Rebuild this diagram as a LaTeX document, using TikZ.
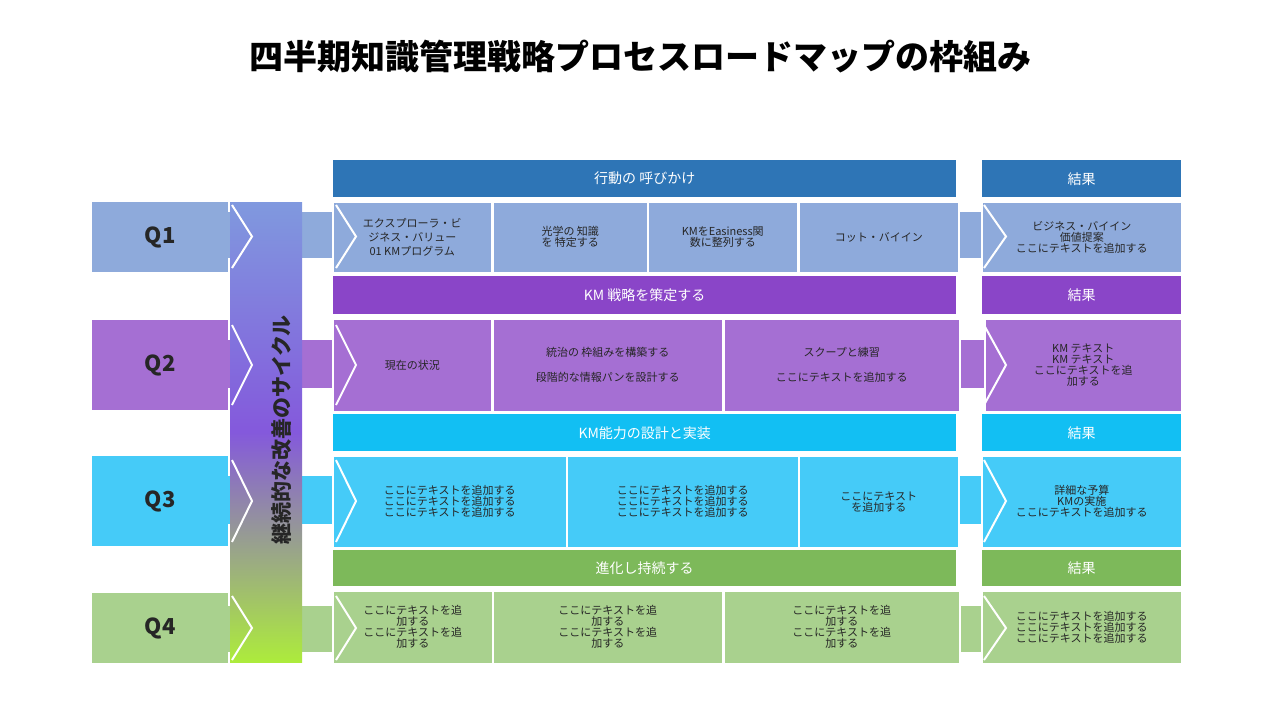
\documentclass[tikz,border=0pt]{standalone}
\usepackage{fontspec}
\setmainfont{Noto Sans CJK JP}
\begin{document}
\begin{tikzpicture}[x=1pt,y=-1pt,
 cell/.style={draw=white,line width=1.5pt,align=center,font=\fontsize{11}{11}\selectfont,anchor=north west,inner sep=0pt,text=black!85},
 hdr/.style={align=center,font=\fontsize{14}{14}\selectfont,text=white,anchor=north west,inner sep=0pt},
 qbox/.style={anchor=north west,inner sep=0pt,font=\bfseries\fontsize{22}{22}\selectfont,text=black!85},
 chev/.style={white,line width=2pt}]
\useasboundingbox (0,0) rectangle (1280,720);
\definecolor{qa}{HTML}{8EAADB}\definecolor{ha}{HTML}{2E75B6}
\definecolor{qb}{HTML}{A56FD3}\definecolor{hb}{HTML}{8A45C8}
\definecolor{qc}{HTML}{45CBF8}\definecolor{hc}{HTML}{12BFF3}
\definecolor{qd}{HTML}{A9D18E}\definecolor{hd}{HTML}{7DB95A}
\node[font=\bfseries\fontsize{34}{34}\selectfont] (title) at (640,57) {四半期知識管理戦略プロセスロードマップの枠組み};
% bands
\fill[qa] (92,212) rectangle (1000,258);
\fill[qb] (92,340) rectangle (1000,388);
\fill[qc] (92,476) rectangle (1000,524);
\fill[qd] (92,606) rectangle (1000,652);
% Q boxes
\node[qbox,fill=qa,minimum width=136,minimum height=70] (q1) at (92,202) {Q1};
\node[qbox,fill=qb,minimum width=136,minimum height=90] (q2) at (92,320) {Q2};
\node[qbox,fill=qc,minimum width=136,minimum height=90] (q3) at (92,456) {Q3};
\node[qbox,fill=qd,minimum width=136,minimum height=70] (q4) at (92,593) {Q4};
% vertical bar
\shade[top color=qa!90!blue,bottom color=qd!70!green!60!yellow,middle color=qb!80!blue] (230,202) rectangle (302,662);
\node[rotate=90,font=\bfseries\fontsize{21}{21}\selectfont,text=black!85] (cyc) at (282,430) {継続的な改善のサイクル};
% headers
\node[hdr,fill=ha,minimum width=623,minimum height=37] (h1) at (333,160) {行動の 呼びかけ};
\node[hdr,fill=ha,minimum width=199,minimum height=37] (r1h) at (982,160) {結果};
\node[hdr,fill=hb,minimum width=623,minimum height=38] (h2) at (333,276) {KM 戦略を策定する};
\node[hdr,fill=hb,minimum width=199,minimum height=38] (r2h) at (982,276) {結果};
\node[hdr,fill=hc,minimum width=623,minimum height=37] (h3) at (333,414) {KM能力の設計と実装};
\node[hdr,fill=hc,minimum width=199,minimum height=37] (r3h) at (982,414) {結果};
\node[hdr,fill=hd,minimum width=623,minimum height=36] (h4) at (333,550) {進化し持続する};
\node[hdr,fill=hd,minimum width=199,minimum height=36] (r4h) at (982,550) {結果};
% Q1 cells
\node[cell,fill=qa,minimum width=159,minimum height=71] (a1) at (332,201) {エクスプローラ・ビ\\[3pt]ジネス・バリュー\\[3pt]01 KMプログラム};
\node[cell,fill=qa,minimum width=155,minimum height=71] (a2) at (492,201) {光学の 知識\\を 特定する};
\node[cell,fill=qa,minimum width=150,minimum height=71] (a3) at (647,201) {KMをEasiness関\\数に整列する};
\node[cell,fill=qa,minimum width=160,minimum height=71] (a4) at (798,201) {コット・バイイン};
\node[cell,fill=qa,minimum width=200,minimum height=71] (ra) at (981,201) {ビジネス・バイイン\\価値提案\\ここにテキストを追加する};
% Q2 cells
\node[cell,fill=qb,minimum width=159,minimum height=93] (b1) at (332,318) {現在の状況};
\node[cell,fill=qb,minimum width=230,minimum height=93] (b2) at (492,318) {統治の 枠組みを構築する\\[14pt]段階的な情報パンを設計する};
\node[cell,fill=qb,minimum width=236,minimum height=93] (b3) at (723,318) {スクープと練習\\[14pt]ここにテキストを追加する};
\node[cell,fill=qb,minimum width=197,minimum height=93] (rb) at (984,318) {KM テキスト\\KM テキスト\\ここにテキストを追\\加する};
% Q3 cells
\node[cell,fill=qc,minimum width=234,minimum height=92] (c1) at (332,455) {ここにテキストを追加する\\ここにテキストを追加する\\ここにテキストを追加する};
\node[cell,fill=qc,minimum width=232,minimum height=92] (c2) at (566,455) {ここにテキストを追加する\\ここにテキストを追加する\\ここにテキストを追加する};
\node[cell,fill=qc,minimum width=160,minimum height=92] (c3) at (798,455) {ここにテキスト\\を追加する};
\node[cell,fill=qc,minimum width=200,minimum height=92] (rc) at (981,455) {詳細な予算\\KMの実施\\ここにテキストを追加する};
% Q4 cells
\node[cell,fill=qd,minimum width=160,minimum height=73] (d1) at (332,590) {ここにテキストを追\\加する\\ここにテキストを追\\加する};
\node[cell,fill=qd,minimum width=230,minimum height=73] (d2) at (492,590) {ここにテキストを追\\加する\\ここにテキストを追\\加する};
\node[cell,fill=qd,minimum width=236,minimum height=73] (d3) at (723,590) {ここにテキストを追\\加する\\ここにテキストを追\\加する};
\node[cell,fill=qd,minimum width=200,minimum height=73] (rd) at (981,590) {ここにテキストを追加する\\ここにテキストを追加する\\ここにテキストを追加する};
% chevrons
\foreach \yt/\yb in {205/268, 325/405, 460/542, 596/660}{
 \draw[chev] (232,\yt) -- (252,{(\yt+\yb)/2}) -- (232,\yb);
 \draw[chev] (336,\yt) -- (356,{(\yt+\yb)/2}) -- (336,\yb);
 \draw[chev] (984,\yt) -- (1006,{(\yt+\yb)/2}) -- (984,\yb);
}
\end{tikzpicture}
\end{document}
